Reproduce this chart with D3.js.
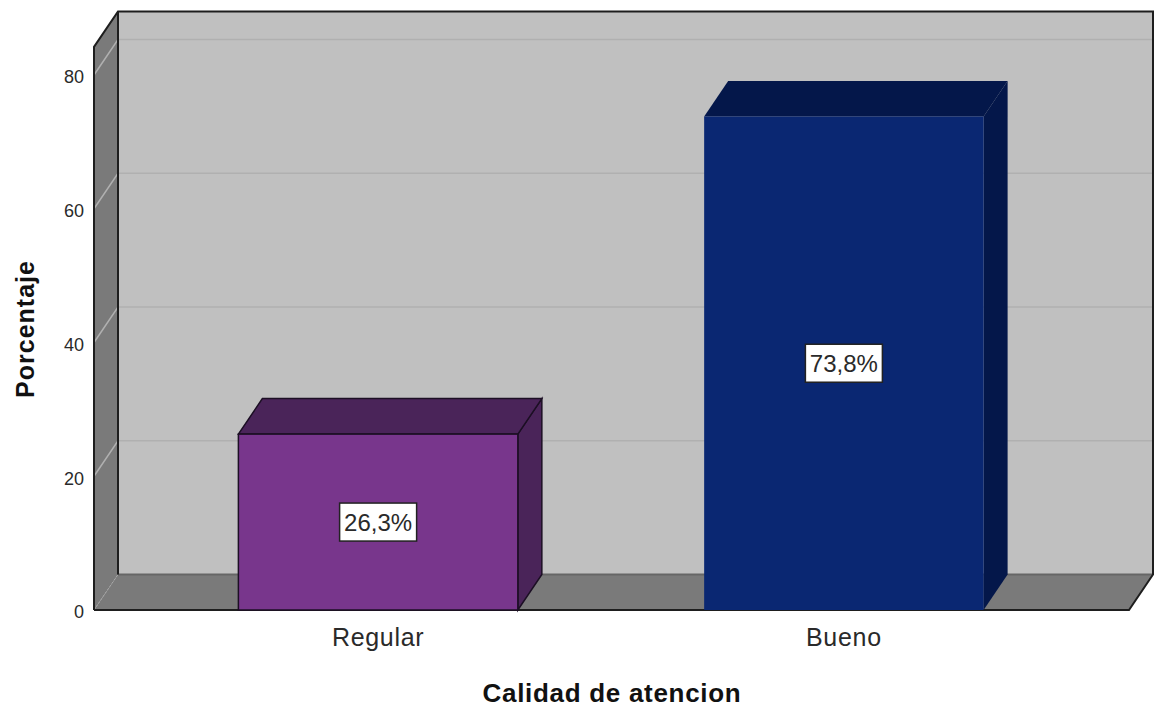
<!DOCTYPE html>
<html>
<head>
<meta charset="utf-8">
<script src="https://d3js.org/d3.v7.min.js"></script>
<style>
  html, body { margin: 0; padding: 0; background: #fff; }
  svg { display: block; }
  text { font-family: "Liberation Sans", Arial, sans-serif; fill: #2a2a2a; }
</style>
</head>
<body>
<script>
var categories = ["Regular", "Bueno"];
var values = [26.3, 73.8];
var valueLabels = ["26,3%", "73,8%"];
var yTicks = [0, 20, 40, 60, 80];
var barColors = ["#78368c", "#0a2772"];
var barDarkColors = ["#4a2459", "#04174a"];
var xTitle = "Calidad de atencion";
var yTitle = "Porcentaje";

var svgWidth = 1157;
var svgHeight = 708;

// floor front edge and the depth of the 3d box
var plot = { left: 94, right: 1129, bottom: 610 };
var depth = { x: 24, y: -35.5 };
var yMax = 84.2;

var svg = d3.select("body").append("svg")
    .attr("width", svgWidth)
    .attr("height", svgHeight);

var xScale = d3.scaleBand()
    .domain(categories)
    .range([plot.left, plot.right - 1])
    .paddingInner(0.4)
    .paddingOuter(0.31);

var yScale = d3.scaleLinear()
    .domain([0, 80])
    .range([plot.bottom, 75]);

var line = d3.line();
var plotTop = yScale(yMax);

function shift(p) {
    return [p[0] + depth.x, p[1] + depth.y];
}

// back wall
var backWall = [[plot.left, plotTop], [plot.right, plotTop], [plot.right, plot.bottom], [plot.left, plot.bottom]].map(shift);
svg.append("path")
    .attr("d", line(backWall) + "Z")
    .attr("fill", "#c0c0c0");

// left wall
svg.append("path")
    .attr("d", line([[plot.left, plot.bottom], [plot.left, plotTop], shift([plot.left, plotTop]), shift([plot.left, plot.bottom])]) + "Z")
    .attr("fill", "#7a7a7a");

// floor
svg.append("path")
    .attr("d", line([[plot.left, plot.bottom], [plot.right, plot.bottom], shift([plot.right, plot.bottom]), shift([plot.left, plot.bottom])]) + "Z")
    .attr("fill", "#7a7a7a");

// grid lines, running round the left wall and along the back
yTicks.forEach(function(t) {
    if (t === 0) return;
    var y = yScale(t);
    svg.append("path")
        .attr("d", line([[plot.left, y], shift([plot.left, y]), shift([plot.right, y])]))
        .attr("fill", "none")
        .attr("stroke", "#b0b0b0")
        .attr("stroke-width", 1.5);
});
svg.append("path")
    .attr("d", line([[plot.left, plot.bottom], shift([plot.left, plot.bottom])]))
    .attr("fill", "none")
    .attr("stroke", "#a8a8a8")
    .attr("stroke-width", 1)
    .attr("stroke-dasharray", "2,2");
svg.append("path")
    .attr("d", line([shift([plot.left, plot.bottom]), shift([plot.right, plot.bottom])]))
    .attr("fill", "none")
    .attr("stroke", "#666")
    .attr("stroke-width", 2);

// box outlines
svg.append("path")
    .attr("d", line([[plot.left, plot.bottom], [plot.left, plotTop], shift([plot.left, plotTop]), shift([plot.right, plotTop]), shift([plot.right, plot.bottom]), [plot.right, plot.bottom], [plot.left, plot.bottom]]))
    .attr("fill", "none")
    .attr("stroke", "#1e1e1e")
    .attr("stroke-width", 2);
svg.append("path")
    .attr("d", line([shift([plot.left, plotTop]), shift([plot.left, plot.bottom])]))
    .attr("fill", "none")
    .attr("stroke", "#1e1e1e")
    .attr("stroke-width", 2);

// bars
categories.forEach(function(c, i) {
    var x0 = xScale(c);
    var x1 = x0 + xScale.bandwidth();
    var y0 = yScale(values[i]);
    var y1 = plot.bottom;
    var outline = i === 0 ? "#1c0f24" : "none";

    svg.append("path")
        .attr("d", line([[x1, y0], shift([x1, y0]), shift([x1, y1]), [x1, y1]]) + "Z")
        .attr("fill", barDarkColors[i])
        .attr("stroke", outline)
        .attr("stroke-width", 1.5);
    svg.append("path")
        .attr("d", line([[x0, y0], shift([x0, y0]), shift([x1, y0]), [x1, y0]]) + "Z")
        .attr("fill", barDarkColors[i])
        .attr("stroke", outline)
        .attr("stroke-width", 1.5);
    svg.append("rect")
        .attr("x", x0)
        .attr("y", y0)
        .attr("width", x1 - x0)
        .attr("height", y1 - y0)
        .attr("fill", barColors[i])
        .attr("stroke", outline)
        .attr("stroke-width", 1.5);

    // value label box
    var cx = (x0 + x1) / 2;
    var cy = (y0 + y1) / 2;
    svg.append("rect")
        .attr("x", cx - 38.5)
        .attr("y", cy - 19)
        .attr("width", 77)
        .attr("height", 38)
        .attr("fill", "#fff")
        .attr("stroke", "#222")
        .attr("stroke-width", 1.5);
    svg.append("text")
        .attr("x", cx)
        .attr("y", cy + 9)
        .attr("text-anchor", "middle")
        .attr("font-size", 24)
        .text(valueLabels[i]);
});

// axes
var yAxis = svg.append("g")
    .attr("transform", "translate(" + plot.left + ",2)")
    .call(d3.axisLeft(yScale).tickValues(yTicks).tickSize(0).tickPadding(10));
yAxis.select(".domain").remove();
yAxis.selectAll("text").attr("font-size", 18).style("font-family", "inherit");

var xAxis = svg.append("g")
    .attr("transform", "translate(0," + plot.bottom + ")")
    .call(d3.axisBottom(xScale).tickSize(0).tickPadding(18));
xAxis.select(".domain").remove();
xAxis.selectAll("text")
    .attr("font-size", 25)
    .attr("letter-spacing", 0.7)
    .style("font-family", "inherit");

svg.append("text")
    .attr("x", 612)
    .attr("y", 702)
    .attr("text-anchor", "middle")
    .attr("font-size", 26)
    .attr("font-weight", "bold")
    .attr("letter-spacing", 0.7)
    .style("fill", "#111")
    .text(xTitle);

svg.append("text")
    .attr("transform", "translate(34,329) rotate(-90)")
    .attr("text-anchor", "middle")
    .attr("font-size", 25)
    .attr("font-weight", "bold")
    .attr("letter-spacing", 1)
    .style("fill", "#111")
    .text(yTitle);
</script>
</body>
</html>
